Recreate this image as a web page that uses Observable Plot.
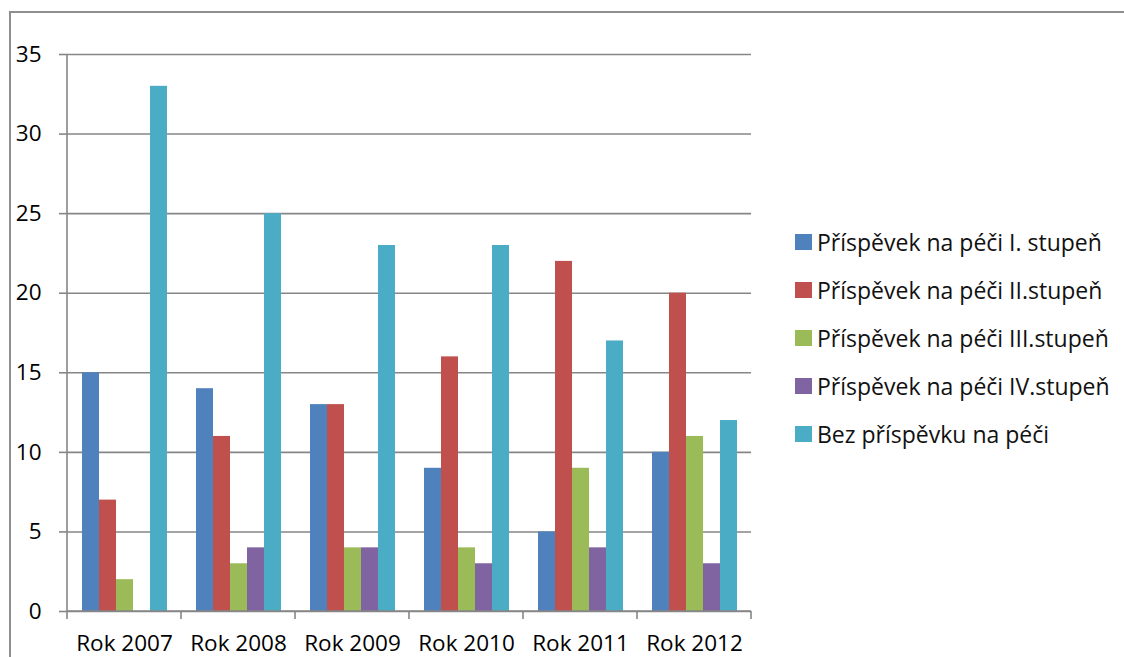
<!DOCTYPE html>
<html><head><meta charset="utf-8">
<script src="https://cdn.jsdelivr.net/npm/d3@7"></script>
<script src="https://cdn.jsdelivr.net/npm/@observablehq/plot@0.6"></script>
<style>
body{margin:0;background:#fff;font-family:"Open Sans",sans-serif;}
#wrap{position:relative;width:1124px;height:657px;overflow:hidden;background:#fff;}
#frame{position:absolute;left:9px;top:11px;width:1200px;height:800px;border:2px solid #8e8e8e;}
#chart{position:absolute;left:0;top:0;}
#legend{position:absolute;left:795px;top:218px;}
.item{display:flex;align-items:center;height:48px;font-size:23px;color:#111;}
.sw{width:17px;height:16px;margin-right:5px;flex:none;}
</style></head><body>
<div id="wrap"><div id="frame"></div><div id="chart"></div><div id="legend"></div></div>
<script>
const years = ["Rok 2007","Rok 2008","Rok 2009","Rok 2010","Rok 2011","Rok 2012"];
const series = ["Příspěvek na péči I. stupeň","Příspěvek na péči II.stupeň","Příspěvek na péči III.stupeň","Příspěvek na péči IV.stupeň","Bez příspěvku na péči"];
const stupen1 = [15,14,13,9,5,10];
const stupen2 = [7,11,13,16,22,20];
const stupen3 = [2,3,4,4,9,11];
const stupen4 = [0,4,4,3,4,3];
const bez = [33,25,23,23,17,12];
const colors = ["#4F81BD","#C0504D","#9BBB59","#8064A2","#4BACC6"];
const yTicks = [0,5,10,15,20,25,30,35];

const values = [stupen1, stupen2, stupen3, stupen4, bez];
const rows = [];
years.forEach((yr,i)=>series.forEach((s,j)=>rows.push({year:yr, series:s, value:values[j][i]})));

const plot = Plot.plot({
  width: 770, height: 657,
  marginLeft: 66, marginRight: 18, marginTop: 54, marginBottom: 46,
  style: {fontFamily: "'Open Sans', sans-serif", fontSize: "22.5px", background: "transparent", color: "#000", overflow: "visible"},
  fx: {domain: years, padding: 0, label: null, axis: null},
  x: {domain: series, paddingInner: 0, paddingOuter: 0.72, axis: null},
  y: {domain: [0,35], label: null},
  color: {domain: series, range: colors},
  marks: [
    Plot.gridY(yTicks, {stroke: "#868686", strokeOpacity: 1, strokeWidth: 1.6}),
    Plot.barY(rows, {fx: "year", x: "series", y: "value", fill: "series"}),
    Plot.axisY(yTicks, {tickSize: 8, tickPadding: 18, stroke: "#868686", strokeWidth: 1.6, fill: "#000", fontSize: 22.5}),
    Plot.axisFx({anchor: "bottom", tickSize: 0, tickPadding: 24, fill: "#000", fontSize: 22.5})
  ]
});
document.getElementById("chart").appendChild(plot);

// axis line and band-boundary ticks derived from the plot's own scales
const fx = plot.scale("fx"), y = plot.scale("y");
const svg = d3.select(plot);
const g = svg.append("g").attr("stroke", "#868686").attr("stroke-width", 1.6);
const x0 = fx.apply(years[0]);
const bounds = years.map(d => fx.apply(d)).concat([fx.apply(years[years.length-1]) + fx.bandwidth]);
g.append("line").attr("x1", x0).attr("x2", x0).attr("y1", y.apply(0)).attr("y2", y.apply(35));
g.append("line").attr("x1", bounds[0]).attr("x2", bounds[bounds.length-1]).attr("y1", y.apply(0)).attr("y2", y.apply(0));
bounds.forEach(b => g.append("line").attr("x1", b).attr("x2", b).attr("y1", y.apply(0)).attr("y2", y.apply(0) + 8));

const legend = d3.select("#legend");
series.forEach((s, i) => {
  const it = legend.append("div").attr("class", "item");
  it.append("div").attr("class", "sw").style("background", colors[i]);
  it.append("span").text(s);
});
</script>
</body></html>
